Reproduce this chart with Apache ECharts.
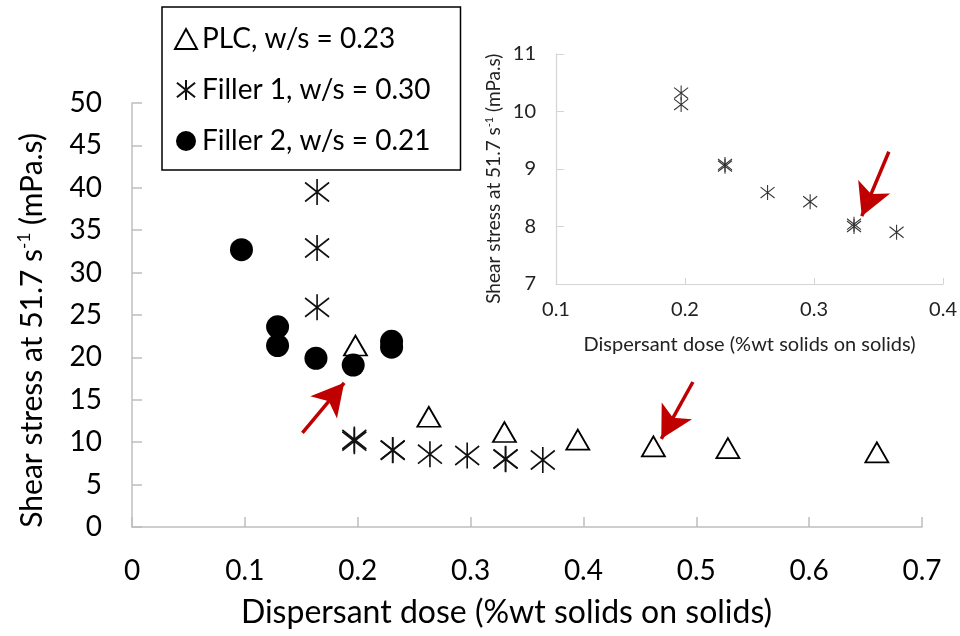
<!DOCTYPE html>
<html>
<head>
<meta charset="utf-8">
<script src="https://cdn.jsdelivr.net/npm/echarts@6/dist/echarts.min.js"></script>
<style>
  html, body { margin: 0; padding: 0; background: #fff; }
  #chart { width: 960px; height: 636px; }
</style>
</head>
<body>
<div id="chart"></div>
<script>
// values: [dose, shear stress]
let plc = [[0.198, 21.4], [0.263, 13.0], [0.330, 11.2], [0.395, 10.3], [0.462, 9.5], [0.528, 9.3], [0.660, 8.8]]
let filler1 = [[0.164, 39.5], [0.164, 32.9], [0.164, 25.9], [0.197, 10.32], [0.197, 10.12], [0.231, 9.05], [0.231, 9.08],
    [0.264, 8.59], [0.297, 8.43], [0.331, 8.0], [0.331, 8.04], [0.364, 7.9]]
let filler2 = [[0.097, 32.7], [0.129, 23.6], [0.129, 21.4], [0.163, 19.9], [0.196, 19.1], [0.230, 21.9], [0.230, 21.2]]
// inset only shows the lower filler 1 points
let filler1Zoom = filler1.filter(p => p[1] < 11)

let seriesNames = ['PLC, w/s = 0.23', 'Filler 1, w/s = 0.30', 'Filler 2, w/s = 0.21']

// red arrows, [from, to] in data units
let arrowsMain = [[[0.151, 11.1], [0.188, 17.0]], [[0.497, 17.1], [0.469, 10.4]]]
let arrowsInset = [[[0.358, 9.30], [0.337, 8.18]]]

let star = 'path://M10,0L10,22M0,3L20,19M0,19L20,3'
let font = 'Lato'

function arrowLines(list) {
    return {
        silent: true,
        animation: false,
        symbol: ['none', 'arrow'],
        symbolSize: [26, 32],
        label: { show: false },
        lineStyle: { color: '#c00000', width: 3.5, type: 'solid', opacity: 1 },
        itemStyle: { color: '#c00000' },
        data: list.map(a => [{ coord: a[0] }, { coord: a[1] }])
    }
}

let EC = echarts.init(document.getElementById('chart'))
let option = {
    animation: false,
    textStyle: { fontFamily: font },
    legend: {
        data: seriesNames,
        orient: 'vertical',
        left: 162,
        top: 7,
        padding: [18, 30, 15, 12],
        itemGap: 23,
        itemWidth: 22,
        itemHeight: 20,
        selectedMode: false,
        backgroundColor: '#fff',
        borderColor: '#000',
        borderWidth: 1.5,
        textStyle: { fontSize: 28, color: '#000', fontFamily: font }
    },
    grid: [
        { left: 132, top: 103, right: 38, bottom: 109 },
        { left: 556, top: 54, right: 15, bottom: 352 }
    ],
    xAxis: [{
        type: 'value',
        gridIndex: 0,
        min: 0,
        max: 0.7,
        interval: 0.1,
        // trailing spaces nudge the title a little to the left, as in the original
        name: 'Dispersant dose (%wt solids on solids)     ',
        nameLocation: 'middle',
        nameGap: 70,
        nameTextStyle: { fontSize: 32, color: '#000' },
        axisLine: { lineStyle: { color: '#bfbfbf', width: 1.5 } },
        axisTick: { inside: true, length: 10, lineStyle: { color: '#bfbfbf', width: 1.5 } },
        axisLabel: { fontSize: 28, color: '#000', margin: 30 },
        splitLine: { show: false }
    }, {
        type: 'value',
        gridIndex: 1,
        min: 0.1,
        max: 0.4,
        interval: 0.1,
        name: 'Dispersant dose (%wt solids on solids)',
        nameLocation: 'middle',
        nameGap: 51,
        nameTextStyle: { fontSize: 20, color: '#222' },
        axisLine: { lineStyle: { color: '#d4d4d4', width: 1.2 } },
        axisTick: { inside: true, length: 6, lineStyle: { color: '#d4d4d4' } },
        axisLabel: { fontSize: 20, color: '#222', margin: 16 },
        splitLine: { show: false }
    }],
    yAxis: [{
        type: 'value',
        gridIndex: 0,
        min: 0,
        max: 50,
        interval: 5,
        name: 'Shear stress at 51.7 s{sup|-1} (mPa.s)    ',
        nameLocation: 'middle',
        nameGap: 84,
        nameTextStyle: {
            fontSize: 30, color: '#000',
            rich: { sup: { fontSize: 17, verticalAlign: 'top', lineHeight: 32, color: '#000' } }
        },
        axisLine: { show: true, lineStyle: { color: '#bfbfbf', width: 1.5 } },
        axisTick: { show: true, inside: true, length: 10, lineStyle: { color: '#bfbfbf', width: 1.5 } },
        axisLabel: { fontSize: 28, color: '#000', margin: 30 },
        splitLine: { show: false }
    }, {
        type: 'value',
        gridIndex: 1,
        min: 7,
        max: 11,
        interval: 1,
        name: 'Shear stress at 51.7 s{sup|-1} (mPa.s)    ',
        nameLocation: 'middle',
        nameGap: 52,
        nameTextStyle: {
            fontSize: 19, color: '#222',
            rich: { sup: { fontSize: 11, verticalAlign: 'top', lineHeight: 20, color: '#222' } }
        },
        axisLine: { show: true, lineStyle: { color: '#d4d4d4', width: 1.2 } },
        axisTick: { show: true, inside: true, length: 8, lineStyle: { color: '#d4d4d4' } },
        axisLabel: { fontSize: 20, color: '#222', margin: 20 },
        splitLine: { show: false }
    }],
    series: [{
        name: seriesNames[0],
        type: 'scatter',
        xAxisIndex: 0,
        yAxisIndex: 0,
        symbol: 'triangle',
        symbolSize: [23, 20],
        itemStyle: { color: '#fff', borderColor: '#000', borderWidth: 1.8, opacity: 1 },
        data: plc,
        markLine: arrowLines(arrowsMain),
        z: 3
    }, {
        name: seriesNames[1],
        type: 'scatter',
        xAxisIndex: 0,
        yAxisIndex: 0,
        symbol: star,
        symbolSize: [24, 26],
        itemStyle: { color: 'rgba(0,0,0,0)', borderColor: '#111', borderWidth: 1.7, opacity: 1 },
        data: filler1
    }, {
        name: seriesNames[2],
        type: 'scatter',
        xAxisIndex: 0,
        yAxisIndex: 0,
        symbol: 'circle',
        symbolSize: 23,
        itemStyle: { color: '#000', opacity: 1 },
        data: filler2,
        z: 4
    }, {
        name: 'Filler 1 inset',
        type: 'scatter',
        xAxisIndex: 1,
        yAxisIndex: 1,
        symbol: star,
        symbolSize: [14, 15],
        itemStyle: { color: 'rgba(0,0,0,0)', borderColor: '#333', borderWidth: 1.1, opacity: 1 },
        data: filler1Zoom,
        markLine: arrowLines(arrowsInset)
    }]
}
EC.setOption(option)
</script>
</body>
</html>
